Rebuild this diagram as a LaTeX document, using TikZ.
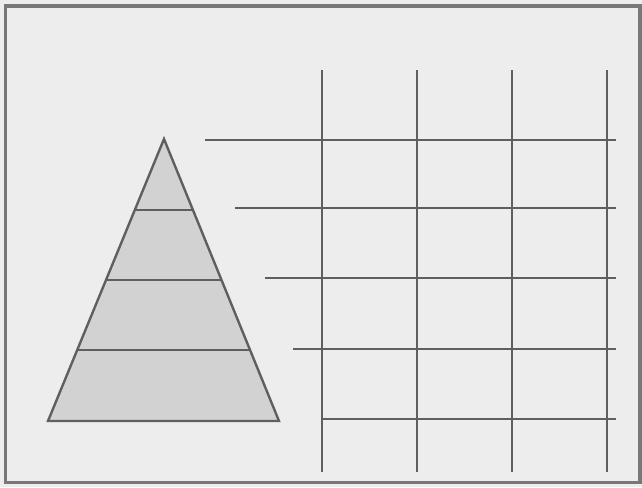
\documentclass[tikz,border=0pt]{standalone}
\usepackage{tikz}
\usetikzlibrary{calc}
\definecolor{PaperGray}{RGB}{237, 237, 237}
\definecolor{LineGray}{RGB}{95, 95, 95}
\definecolor{FrameGray}{RGB}{120, 120, 120}
\definecolor{LayerGray}{RGB}{210, 210, 210}

\begin{document}
\begin{tikzpicture}[
    x=0.025cm, y=-0.025cm,
    frame/.style={draw=FrameGray, line width=2.6pt},
    gridline/.style={draw=LineGray, line width=1.7pt},
    pyramid/.style={draw=LineGray, fill=LayerGray, line width=1.7pt, line join=miter}
]
\fill[PaperGray] (0,0) rectangle (642,487);
\useasboundingbox (0,0) rectangle (642,487);
\draw[frame] (5.5,6) rectangle (640,482.5);

% pyramid with layers
\coordinate (apex) at (164,139);
\coordinate (baseL) at (48,421);
\coordinate (baseR) at (279,421);
\draw[pyramid] (apex) -- (baseR) -- (baseL) -- cycle;
\foreach \y in {210,280,350} {
    \draw[gridline] ($(apex)!{(\y-139)/282}!(baseL)$) -- ($(apex)!{(\y-139)/282}!(baseR)$);
}

% grid
\foreach \x in {322,417,512,607} {
    \draw[gridline] (\x,70) -- (\x,472);
}
\foreach \xs/\y in {205/140, 235/208, 265/278, 293/349, 322/419} {
    \draw[gridline] (\xs,\y) -- (616,\y);
}
\end{tikzpicture}
\end{document}
